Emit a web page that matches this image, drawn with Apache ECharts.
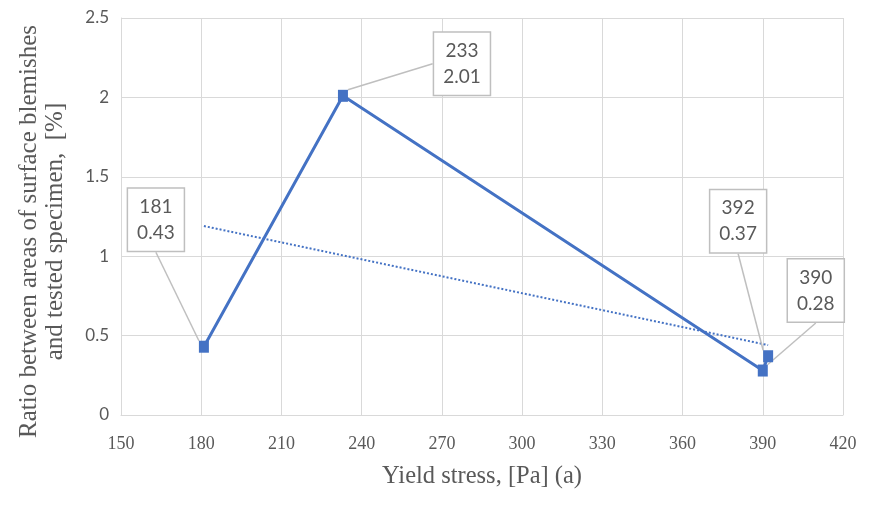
<!DOCTYPE html>
<html>
<head>
<meta charset="utf-8">
<script src="https://cdn.jsdelivr.net/npm/echarts@6/dist/echarts.min.js"></script>
<style>html,body{margin:0;padding:0;background:#fff}#c{width:887px;height:529px}</style>
</head>
<body>
<div id="c"></div>
<script>
// Data
const yieldStress = [181, 233, 390, 392];
const blemishRatio = [0.43, 2.01, 0.28, 0.37];
const trendX = [181, 392];
const trendY = [1.19, 0.44];
const xTicks = {min: 150, max: 420, interval: 30};
const yTicks = {min: 0, max: 2.5, interval: 0.5};

// callout offsets (label centre relative to point), layout only
const calloutOffsets = [[-48, -127], [119, -32], [53, -80], [-30, -135]];

const chart = echarts.init(document.getElementById('c'), null, {renderer: 'canvas'});
const grey = '#595959';
const gridCol = '#d9d9d9';
const serif = '"Liberation Serif", "Times New Roman", serif';
const sans = 'Lato, "Open Sans", sans-serif';

chart.setOption({
  animation: false,
  backgroundColor: '#ffffff',
  grid: {left: 121, right: 44, top: 18, bottom: 114, containLabel: false, outerBoundsMode: 'none'},
  xAxis: {
    type: 'value', min: xTicks.min, max: xTicks.max, interval: xTicks.interval,
    axisLine: {show: true, lineStyle: {color: gridCol, width: 1}},
    axisTick: {show: false},
    splitLine: {show: true, lineStyle: {color: gridCol, width: 1}},
    axisLabel: {color: grey, fontSize: 18, fontFamily: serif, margin: 20},
    name: 'Yield stress, [Pa] (a)', nameLocation: 'middle', nameGap: 49,
    nameTextStyle: {color: grey, fontSize: 24.5, fontFamily: serif}
  },
  yAxis: {
    type: 'value', min: yTicks.min, max: yTicks.max, interval: yTicks.interval,
    axisLine: {show: true, lineStyle: {color: gridCol, width: 1}},
    axisTick: {show: false},
    splitLine: {show: true, lineStyle: {color: gridCol, width: 1}},
    axisLabel: {color: grey, fontSize: 17, fontFamily: sans, margin: 12},
    name: 'Ratio between areas of surface blemishes\nand tested specimen,  [%]',
    nameLocation: 'middle', nameRotate: 90, nameGap: 53,
    nameTextStyle: {color: grey, fontSize: 25, fontFamily: serif, lineHeight: 26, align: 'center', padding: [0, 30, 0, 0]}
  },
  series: [
    {
      type: 'line',
      data: [[trendX[0], trendY[0]], [trendX[1], trendY[1]]],
      symbol: 'none',
      lineStyle: {color: '#4472c4', width: 2, type: 'dotted'},
      z: 1, silent: true
    },
    {
      type: 'line',
      data: yieldStress.map((x, i) => [x, blemishRatio[i]]),
      symbol: 'rect', symbolSize: [10, 12],
      itemStyle: {color: '#4472c4'},
      lineStyle: {color: '#4472c4', width: 3},
      z: 3,
      label: {
        show: true, position: 'inside',
        formatter: p => p.value[0] + '\n' + p.value[1].toFixed(2),
        color: grey, fontSize: 19, fontFamily: sans, lineHeight: 26,
        backgroundColor: '#ffffff', borderColor: '#bfbfbf', borderWidth: 1.5,
        padding: [6, 9, 4, 9], align: 'center'
      },
      labelLine: {show: true, lineStyle: {color: '#bfbfbf', width: 1.5}},
      labelLayout: p => ({dx: calloutOffsets[p.dataIndex][0], dy: calloutOffsets[p.dataIndex][1]})
    }
  ]
});
</script>
</body>
</html>
